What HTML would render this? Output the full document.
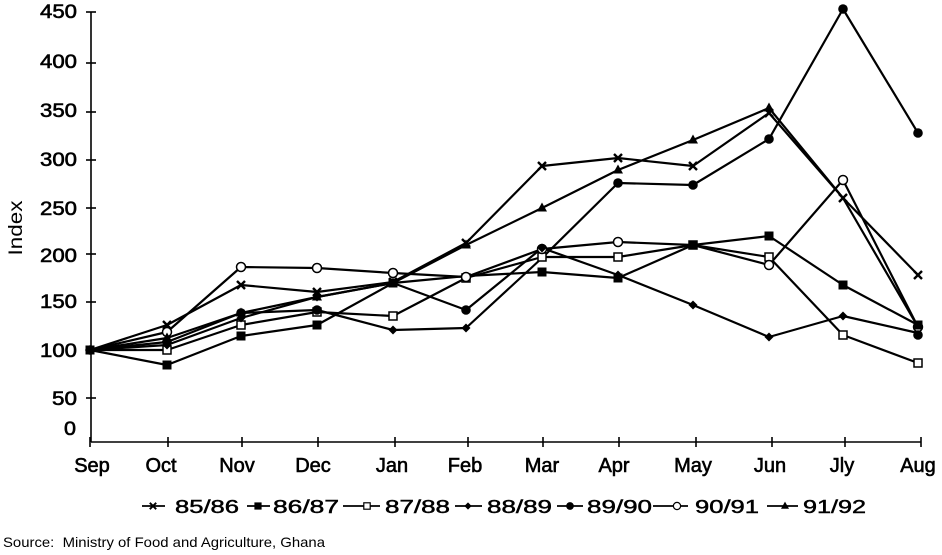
<!DOCTYPE html>
<html>
<head>
<meta charset="utf-8">
<style>
  html, body { margin: 0; padding: 0; background: #fff; }
  svg { display: block; }
  text { font-family: "Liberation Sans", Arial, sans-serif; fill: #000; }
</style>
</head>
<body>
<svg width="942" height="555" viewBox="0 0 942 555" xmlns="http://www.w3.org/2000/svg">
  <rect x="0" y="0" width="942" height="555" fill="#fff"/>

  <!-- Axes -->
  <g stroke="#000" stroke-width="1.6" fill="none">
    <line x1="91" y1="12" x2="91" y2="442"/>
    <line x1="91" y1="442" x2="921" y2="442"/>
    <line x1="86" y1="12" x2="96" y2="12"/>
    <line x1="86" y1="63" x2="96" y2="63"/>
    <line x1="86" y1="112" x2="96" y2="112"/>
    <line x1="86" y1="160" x2="96" y2="160"/>
    <line x1="86" y1="208" x2="96" y2="208"/>
    <line x1="86" y1="254" x2="96" y2="254"/>
    <line x1="86" y1="302" x2="96" y2="302"/>
    <line x1="86" y1="350" x2="96" y2="350"/>
    <line x1="86" y1="398" x2="96" y2="398"/>
    <line x1="90" y1="437" x2="90" y2="447"/>
    <line x1="168" y1="437" x2="168" y2="447"/>
    <line x1="242" y1="437" x2="242" y2="447"/>
    <line x1="318" y1="437" x2="318" y2="447"/>
    <line x1="395" y1="437" x2="395" y2="447"/>
    <line x1="468" y1="437" x2="468" y2="447"/>
    <line x1="543" y1="437" x2="543" y2="447"/>
    <line x1="619" y1="437" x2="619" y2="447"/>
    <line x1="696" y1="437" x2="696" y2="447"/>
    <line x1="772" y1="437" x2="772" y2="447"/>
    <line x1="845" y1="437" x2="845" y2="447"/>
    <line x1="921" y1="437" x2="921" y2="447"/>
  </g>

  <!-- Y tick labels -->
  <g font-size="19" text-anchor="end" stroke="#000" stroke-width="0.6">
    <text x="77" y="18" textLength="37" lengthAdjust="spacingAndGlyphs">450</text>
    <text x="77" y="68" textLength="37" lengthAdjust="spacingAndGlyphs">400</text>
    <text x="77" y="117" textLength="37" lengthAdjust="spacingAndGlyphs">350</text>
    <text x="77" y="166" textLength="37" lengthAdjust="spacingAndGlyphs">300</text>
    <text x="77" y="215" textLength="37" lengthAdjust="spacingAndGlyphs">250</text>
    <text x="77" y="262" textLength="37" lengthAdjust="spacingAndGlyphs">200</text>
    <text x="77" y="308" textLength="37" lengthAdjust="spacingAndGlyphs">150</text>
    <text x="77" y="357" textLength="37" lengthAdjust="spacingAndGlyphs">100</text>
    <text x="77" y="405" textLength="25" lengthAdjust="spacingAndGlyphs">50</text>
    <text x="76" y="435" textLength="12" lengthAdjust="spacingAndGlyphs">0</text>
  </g>

  <!-- Y axis title -->
  <text transform="translate(22,228) rotate(-90)" font-size="19" text-anchor="middle" textLength="55" lengthAdjust="spacingAndGlyphs">Index</text>

  <!-- Month labels -->
  <g font-size="20" text-anchor="middle" stroke="#000" stroke-width="0.6">
    <text x="92" y="472">Sep</text>
    <text x="161" y="472">Oct</text>
    <text x="237" y="472">Nov</text>
    <text x="313" y="472">Dec</text>
    <text x="392" y="472">Jan</text>
    <text x="465" y="472">Feb</text>
    <text x="542" y="472">Mar</text>
    <text x="614" y="472">Apr</text>
    <text x="693" y="472">May</text>
    <text x="770" y="472">Jun</text>
    <text x="842" y="472">Jly</text>
    <text x="918" y="472">Aug</text>
  </g>

  <!-- Series lines -->
  <g fill="none" stroke="#000" stroke-width="2.2" stroke-linejoin="round">
    <polyline points="90,350 167,325 241,285 317,292 393,282 466,243 542,166 618,158 693,166 769,113 843,198 918,275"/>
    <polyline points="90,350 167,365 241,336 317,325 393,283 466,276 542,272 618,278 693,245 769,236 843,285 918,325"/>
    <polyline points="90,350 167,350 241,325 317,312 393,316 466,278 542,257 618,257 693,245 769,257 843,335 918,363"/>
    <polyline points="90,350 167,345 241,318 317,297 393,283 466,310 542,248 618,275 693,305 769,337 843,316 918,333"/>
    <polyline points="90,350 167,342 241,313 317,310 393,330 466,328 542,258 618,183 693,185 769,139 843,9 918,133"/>
    <polyline points="90,350 167,332 241,267 317,268 393,273 466,277 542,249 618,242 693,245 769,265 843,180 918,327"/>
    <polyline points="90,350 167,338 241,313 317,297 393,283 466,245 542,208 618,170 693,140 769,108 843,198 918,327"/>
  </g>

  <defs>
    <g id="mx"><line x1="-4" y1="-4" x2="4" y2="4" stroke="#000" stroke-width="2.4"/><line x1="-4" y1="4" x2="4" y2="-4" stroke="#000" stroke-width="2.4"/></g>
    <rect id="mfs" x="-4.5" y="-4.5" width="9" height="9" fill="#000"/>
    <rect id="mos" x="-4" y="-4" width="8" height="8" fill="#fff" stroke="#000" stroke-width="1.5"/>
    <polygon id="md" points="0,-4.5 4.5,0 0,4.5 -4.5,0" fill="#000"/>
    <circle id="mfc" r="4.8" fill="#000"/>
    <circle id="moc" r="4.5" fill="#fff" stroke="#000" stroke-width="1.5"/>
    <polygon id="mt" points="0,-5.5 5,3.5 -5,3.5" fill="#000"/>
  </defs>

  <g>
    <use href="#mos" x="167" y="350"/><use href="#mos" x="241" y="325"/><use href="#mos" x="317" y="312"/>
    <use href="#mos" x="393" y="316"/><use href="#mos" x="466" y="278"/><use href="#mos" x="542" y="257"/>
    <use href="#mos" x="618" y="257"/><use href="#mos" x="693" y="245"/><use href="#mos" x="769" y="257"/>
    <use href="#mos" x="843" y="335"/><use href="#mos" x="918" y="363"/>
  </g>
  <g>
    <use href="#moc" x="167" y="332"/><use href="#moc" x="241" y="267"/><use href="#moc" x="317" y="268"/>
    <use href="#moc" x="393" y="273"/><use href="#moc" x="466" y="277"/><use href="#moc" x="542" y="249"/>
    <use href="#moc" x="618" y="242"/><use href="#moc" x="769" y="265"/>
    <use href="#moc" x="843" y="180"/><use href="#moc" x="918" y="327"/>
  </g>
  <g>
    <use href="#mx" x="167" y="325"/><use href="#mx" x="241" y="285"/><use href="#mx" x="317" y="292"/>
    <use href="#mx" x="393" y="282"/><use href="#mx" x="466" y="243"/><use href="#mx" x="542" y="166"/>
    <use href="#mx" x="618" y="158"/><use href="#mx" x="693" y="166"/><use href="#mx" x="769" y="113"/>
    <use href="#mx" x="843" y="198"/><use href="#mx" x="918" y="275"/>
  </g>
  <g>
    <use href="#mfs" x="90" y="350"/>
    <use href="#mfs" x="167" y="365"/><use href="#mfs" x="241" y="336"/><use href="#mfs" x="317" y="325"/>
    <use href="#mfs" x="393" y="283"/><use href="#mfs" x="542" y="272"/>
    <use href="#mfs" x="618" y="278"/><use href="#mfs" x="693" y="245"/><use href="#mfs" x="769" y="236"/>
    <use href="#mfs" x="843" y="285"/><use href="#mfs" x="918" y="325"/>
  </g>
  <g>
    <use href="#md" x="167" y="345"/><use href="#md" x="241" y="318"/><use href="#md" x="317" y="297"/>
    <use href="#md" x="393" y="283"/><use href="#md" x="542" y="248"/>
    <use href="#md" x="618" y="275"/><use href="#md" x="693" y="305"/><use href="#md" x="769" y="337"/>
    <use href="#md" x="843" y="316"/>
    <use href="#md" x="393" y="330"/><use href="#md" x="466" y="328"/>
  </g>
  <g>
    <use href="#mfc" x="90" y="350"/>
    <use href="#mfc" x="167" y="342"/><use href="#mfc" x="241" y="313"/><use href="#mfc" x="317" y="310"/>
    <use href="#mfc" x="466" y="310"/>
    <use href="#mfc" x="618" y="183"/><use href="#mfc" x="693" y="185"/><use href="#mfc" x="769" y="139"/>
    <use href="#mfc" x="843" y="9"/><use href="#mfc" x="918" y="133"/><use href="#mfc" x="918" y="335"/>
  </g>
  <g>
    <use href="#mt" x="167" y="338"/><use href="#mt" x="241" y="313"/><use href="#mt" x="317" y="297"/>
    <use href="#mt" x="466" y="245"/><use href="#mt" x="542" y="208"/>
    <use href="#mt" x="618" y="170"/><use href="#mt" x="693" y="140"/><use href="#mt" x="769" y="108"/>
  </g>

  <!-- Legend -->
  <g stroke="#000" stroke-width="1.8">
    <line x1="142" y1="506" x2="165" y2="506"/>
    <line x1="247" y1="506" x2="270" y2="506"/>
    <line x1="343" y1="506" x2="380" y2="506"/>
    <line x1="455" y1="506" x2="482" y2="506"/>
    <line x1="557" y1="506" x2="583" y2="506"/>
    <line x1="653" y1="506" x2="688" y2="506"/>
    <line x1="767" y1="506" x2="798" y2="506"/>
  </g>
  <g>
    <g transform="translate(153,506) scale(0.8)"><use href="#mx"/></g>
    <g transform="translate(258,506) scale(0.8)"><use href="#mfs"/></g>
    <g transform="translate(367,506) scale(0.8)"><use href="#mos"/></g>
    <g transform="translate(468,506) scale(0.8)"><use href="#md"/></g>
    <g transform="translate(570,506) scale(0.8)"><use href="#mfc"/></g>
    <g transform="translate(677,506) scale(0.8)"><use href="#moc"/></g>
    <g transform="translate(785,506) scale(0.8)"><use href="#mt"/></g>
  </g>
  <g font-size="18" stroke="#000" stroke-width="0.45">
    <text x="175" y="513" textLength="64" lengthAdjust="spacingAndGlyphs">85/86</text>
    <text x="273" y="513" textLength="66" lengthAdjust="spacingAndGlyphs">86/87</text>
    <text x="385" y="513" textLength="65" lengthAdjust="spacingAndGlyphs">87/88</text>
    <text x="487" y="513" textLength="65" lengthAdjust="spacingAndGlyphs">88/89</text>
    <text x="587" y="513" textLength="65" lengthAdjust="spacingAndGlyphs">89/90</text>
    <text x="695" y="513" textLength="64" lengthAdjust="spacingAndGlyphs">90/91</text>
    <text x="803" y="513" textLength="63" lengthAdjust="spacingAndGlyphs">91/92</text>
  </g>

  <text x="3" y="547" font-size="14" textLength="322" lengthAdjust="spacingAndGlyphs" xml:space="preserve">Source:  Ministry of Food and Agriculture, Ghana</text>
</svg>
</body>
</html>
